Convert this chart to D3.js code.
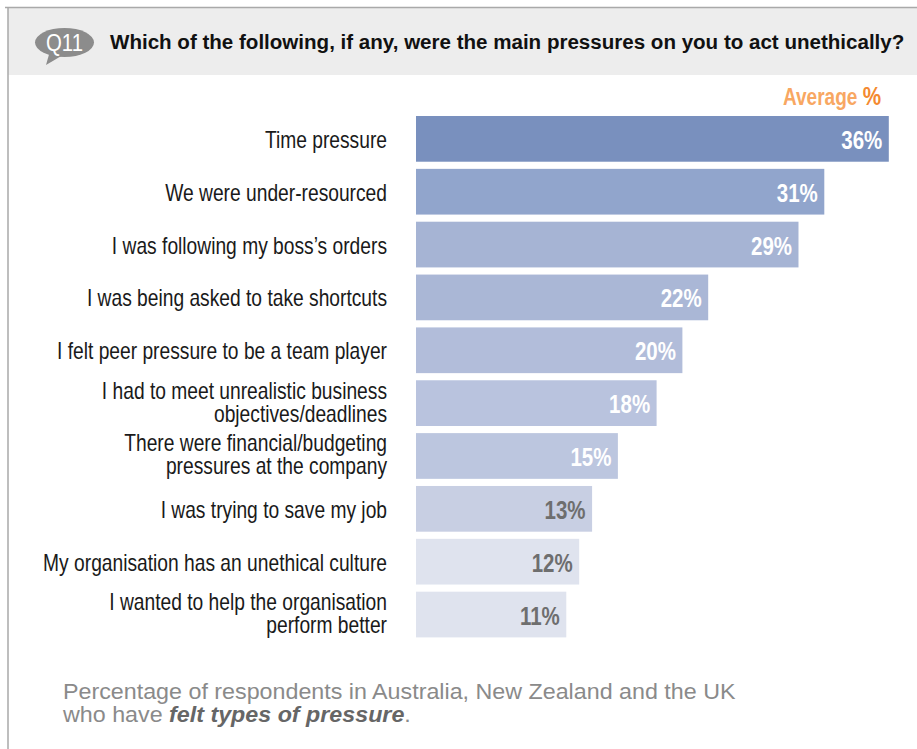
<!DOCTYPE html>
<html>
<head>
<meta charset="utf-8">
<script src="https://cdn.jsdelivr.net/npm/d3@7"></script>
<style>
  html, body { margin: 0; padding: 0; background: #fff; }
  svg { display: block; }
  text { font-family: "Liberation Sans", Arial, Helvetica, sans-serif; }
</style>
</head>
<body>
<svg id="chart" width="917" height="749"></svg>
<script>
// ---- data ----
const categories = [
  "Time pressure",
  "We were under-resourced",
  "I was following my boss\u2019s orders",
  "I was being asked to take shortcuts",
  "I felt peer pressure to be a team player",
  "I had to meet unrealistic business\nobjectives/deadlines",
  "There were financial/budgeting\npressures at the company",
  "I was trying to save my job",
  "My organisation has an unethical culture",
  "I wanted to help the organisation\nperform better"
];
const values = [36, 31, 29, 22, 20, 18, 15, 13, 12, 11];
const valueLabels = ["36%", "31%", "29%", "22%", "20%", "18%", "15%", "13%", "12%", "11%"];
const titleText = "Which of the following, if any, were the main pressures on you to act unethically?";
const badgeText = "Q11";
const legendWord = "Average";
const legendUnit = "%";
const footLine1 = "Percentage of respondents in Australia, New Zealand and the UK";
const footLine2 = ["who have ", "felt types of pressure", "."];

// ---- styles ----
const barColors = ["#7990be", "#91a5cc", "#a6b4d4", "#aab7d6", "#b2bdda",
                   "#b9c3de", "#bcc6df", "#c8cfe3", "#dfe3ee", "#dfe3ee"];
const labelColors = ["#ffffff", "#ffffff", "#ffffff", "#ffffff", "#ffffff",
                     "#ffffff", "#ffffff", "#6e6e6e", "#6e6e6e", "#6e6e6e"];

const svg = d3.select("#chart");

// frame
svg.append("rect").attr("x", 8).attr("y", 8).attr("width", 909).attr("height", 67).attr("fill", "#ededed");
svg.append("line").attr("x1", 5).attr("x2", 917).attr("y1", 7.5).attr("y2", 7.5).attr("stroke", "#a9a9a9").attr("stroke-width", 1.5);
svg.append("line").attr("x1", 8).attr("x2", 8).attr("y1", 7).attr("y2", 749).attr("stroke", "#a9a9a9").attr("stroke-width", 1.5);

function scaleToWidth(textSel, target) {
  const w = textSel.node().getComputedTextLength();
  return target / w;
}

// badge
const badge = svg.append("g");
badge.append("path").attr("d", "M50,51 L63,55 L46,65 Z").attr("fill", "#8c8c8c");
badge.append("ellipse").attr("cx", 64.5).attr("cy", 42.5).attr("rx", 29.5).attr("ry", 14.5).attr("fill", "#8c8c8c");
const bg = badge.append("g");
const bt = bg.append("text").attr("text-anchor", "middle").attr("font-size", 23).attr("fill", "#fff").text(badgeText);
bg.attr("transform", `translate(64.5,50.5) scale(${scaleToWidth(bt, 37)},1)`);

// title
const tg = svg.append("g");
const tt = tg.append("text").attr("font-size", 20.5).attr("font-weight", "bold").attr("fill", "#111").text(titleText);
tg.attr("transform", `translate(110,49) scale(${scaleToWidth(tt, 795)},1)`);

// legend "Average %"
const lg = svg.append("g");
const lt = lg.append("text").attr("text-anchor", "end").attr("font-size", 23).attr("font-weight", "bold");
lt.append("tspan").attr("fill", "#f8a762").text(legendWord + " ");
lt.append("tspan").attr("fill", "#f48a30").attr("font-size", 25).text(legendUnit);
lg.attr("transform", `translate(881,105) scale(${scaleToWidth(lt, 98)},1)`);

// scales
const x = d3.scaleLinear().domain([-0.65, 36]).range([416, 888.8]);
const y = d3.scaleBand().domain(categories).range([116, 637.4]).paddingInner(0.135).paddingOuter(0);

// bars
svg.append("g").selectAll("rect").data(values).join("rect")
  .attr("x", x(x.domain()[0]))
  .attr("y", (d, i) => y(categories[i]))
  .attr("width", d => x(d) - x(x.domain()[0]))
  .attr("height", y.bandwidth())
  .attr("fill", (d, i) => barColors[i]);

// value labels
let kVal = null;
values.forEach((v, i) => {
  const g = svg.append("g");
  const t = g.append("text").attr("text-anchor", "end").attr("font-size", 25)
    .attr("font-weight", "bold").attr("fill", labelColors[i]).text(valueLabels[i]);
  if (kVal === null) kVal = scaleToWidth(t, 41);
  g.attr("transform", `translate(${x(v) - 6.5},${y(categories[i]) + y.bandwidth() / 2 + 10}) scale(${kVal},1)`);
});

// category labels
const lineH = 23;
const probe = svg.append("text").attr("font-size", 23).text(categories[8]);
const kCat = scaleToWidth(probe, 344);
probe.remove();
categories.forEach((c, i) => {
  const lines = c.split("\n");
  const g = svg.append("g");
  const t = g.append("text").attr("text-anchor", "end").attr("font-size", 23).attr("fill", "#1a1a1a");
  lines.forEach((ln, j) => {
    t.append("tspan").attr("x", 0).attr("y", j * lineH).text(ln);
  });
  const cy = y(categories[i]) + y.bandwidth() / 2;
  const base = cy + 9 - (lines.length - 1) * lineH / 2 - (lines.length - 1) * 2;
  g.attr("transform", `translate(387,${base}) scale(${kCat},1)`);
});

// footnote
const fg1 = svg.append("g");
const ft1 = fg1.append("text").attr("font-size", 21.5).attr("fill", "#8a8a8a").text(footLine1);
const kFoot = scaleToWidth(ft1, 673);
fg1.attr("transform", `translate(63,698.5) scale(${kFoot},1)`);
const fg2 = svg.append("g");
const ft2 = fg2.append("text").attr("font-size", 21.5).attr("fill", "#8a8a8a");
ft2.append("tspan").text(footLine2[0]);
ft2.append("tspan").attr("font-weight", "bold").attr("font-style", "italic").attr("fill", "#666").text(footLine2[1]);
ft2.append("tspan").text(footLine2[2]);
fg2.attr("transform", `translate(63,721.5) scale(${kFoot},1)`);
</script>
</body>
</html>
